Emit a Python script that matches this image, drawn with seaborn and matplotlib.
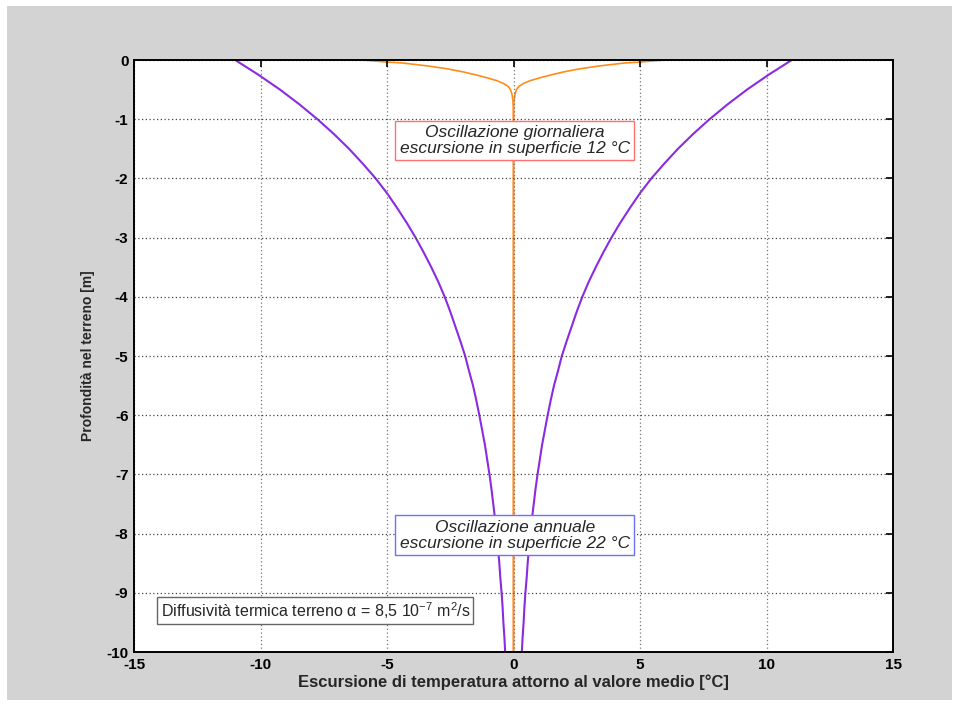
import matplotlib
matplotlib.use("Agg")
import matplotlib.pyplot as plt
import seaborn as sns
import pandas as pd
from matplotlib.patches import Rectangle

# ---- data ----
annual_depth = [0, 0.25, 0.5, 0.75, 1, 1.25, 1.5, 1.75, 2, 2.25, 2.5, 2.75, 3, 3.25, 3.5, 3.75,
                4, 4.25, 4.5, 4.75, 5, 5.25, 5.5, 5.75, 6, 6.25, 6.5, 6.75, 7, 7.25, 7.5, 7.75,
                8, 8.25, 8.5, 8.75, 9, 9.25, 9.5, 9.75, 10]
annual_amp = [11.0, 10.08, 9.23, 8.46, 7.75, 7.1, 6.5, 5.96, 5.45, 5.0, 4.6, 4.22, 3.87, 3.55,
              3.25, 2.97, 2.72, 2.5, 2.3, 2.1, 1.91, 1.76, 1.6, 1.47, 1.35, 1.24, 1.13, 1.04,
              0.95, 0.87, 0.8, 0.73, 0.67, 0.61, 0.56, 0.52, 0.47, 0.43, 0.4, 0.36, 0.33]
daily_depth = [0, 0.02, 0.035, 0.05, 0.075, 0.1, 0.125, 0.15, 0.175, 0.2, 0.25, 0.3, 0.35, 0.4,
               0.45, 0.5, 0.55, 0.6, 0.65, 0.7, 0.8, 0.9, 1.0, 10]
daily_amp = [6.0, 5.4, 5.0, 4.4, 3.9, 3.4, 3.0, 2.6, 2.3, 2.0, 1.5, 1.05, 0.65, 0.38, 0.2, 0.12,
             0.08, 0.05, 0.035, 0.02, 0.01, 0.005, 0.0, 0.0]

x_ticks = [-15, -10, -5, 0, 5, 10, 15]
y_ticks = [-10, -9, -8, -7, -6, -5, -4, -3, -2, -1, 0]

xlabel = "Escursione di temperatura attorno al valore medio [°C]"
ylabel = "Profondità nel terreno [m]"
txt_daily = "Oscillazione giornaliera\nescursione in superficie 12 °C"
txt_annual = "Oscillazione annuale\nescursione in superficie 22 °C"
txt_diff = "Diffusività termica terreno α = 8,5 10$^{-7}$ m$^{2}$/s"

# ---- style ----
sns.set_style("white")
plt.rcParams["font.family"] = ["Liberation Sans", "DejaVu Sans"]
plt.rcParams["mathtext.fontset"] = "custom"
plt.rcParams["mathtext.rm"] = "Liberation Sans"
plt.rcParams["mathtext.it"] = "Liberation Sans:italic"
plt.rcParams["axes.unicode_minus"] = False

fig = plt.figure(figsize=(9.58, 7.04), dpi=100, facecolor="white")
fig.patches.append(Rectangle((7 / 958, 1 - 700 / 704), (952 - 7) / 958, (700 - 6) / 704,
                             transform=fig.transFigure, facecolor="#d3d3d3",
                             edgecolor="none", zorder=-10))
ax = fig.add_axes([134 / 958, 1 - 652 / 704, (893 - 134) / 958, (652 - 60) / 704])
ax.set_facecolor("white")

purple = "#8a2be2"
orange = "#ff8c1a"

dfa = pd.DataFrame({"depth": [-d for d in annual_depth], "amp": annual_amp})
dfd = pd.DataFrame({"depth": [-d for d in daily_depth], "amp": daily_amp})

for sign in (-1, 1):
    sns.lineplot(x=dfd["amp"] * sign, y=dfd["depth"], sort=False, estimator=None,
                 color=orange, lw=1.2, ax=ax)
    sns.lineplot(x=dfa["amp"] * sign, y=dfa["depth"], sort=False, estimator=None,
                 color=purple, lw=1.5, ax=ax)

ax.set_xlim(-15, 15)
ax.set_ylim(-10, 0)
ax.set_xticks(x_ticks)
ax.set_yticks(y_ticks)
ax.set_xticklabels([str(t) for t in x_ticks])
ax.set_yticklabels([str(t) for t in y_ticks])
ax.tick_params(direction="in", length=5, width=1.2, top=True, right=True,
               labelsize=11, colors="black", pad=4)
for lab in ax.get_xticklabels() + ax.get_yticklabels():
    lab.set_fontweight("bold")

ax.set_axisbelow(False)
ax.xaxis.grid(True, linestyle=(0, (1, 2)), color="#777777", lw=0.9)
ax.yaxis.grid(True, linestyle=(0, (1, 2)), color="#444444", lw=0.9)

for s in ax.spines.values():
    s.set_color("black")
    s.set_linewidth(1.4)
    s.set_zorder(5)

ax.set_xlabel(xlabel, fontsize=12, fontweight="bold", labelpad=2)
ax.set_ylabel(ylabel, fontsize=10, fontweight="bold", labelpad=8)

ax.text(0.05, -1.36, txt_daily, ha="center", va="center", fontsize=12.5, style="italic",
        linespacing=1.1, zorder=6,
        bbox=dict(boxstyle="square,pad=0.25", facecolor="white", edgecolor="#ff7070", lw=1))
ax.text(0.05, -8.03, txt_annual, ha="center", va="center", fontsize=12.5, style="italic",
        linespacing=1.1, zorder=6,
        bbox=dict(boxstyle="square,pad=0.25", facecolor="white", edgecolor="#7070ff", lw=1))
ax.text(-13.95, -9.3, txt_diff, ha="left", va="center", fontsize=11.5, zorder=6,
        bbox=dict(boxstyle="square,pad=0.2", facecolor="white", edgecolor="#666666", lw=1))

fig.savefig("out.png", dpi=100, facecolor=fig.get_facecolor())
